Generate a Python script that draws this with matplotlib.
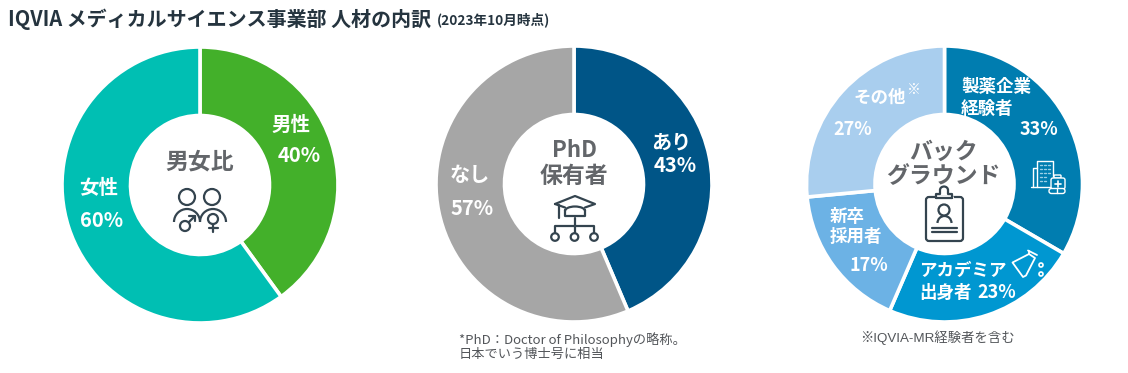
import matplotlib
matplotlib.use("Agg")
import matplotlib.pyplot as plt
from matplotlib.patches import Arc, Circle, FancyBboxPatch, Polygon

plt.rcParams["font.family"] = ["Noto Sans CJK JP", "DejaVu Sans"]

# data: slice sizes, printed percentages as written on it
gender_labels = ["男性", "女性"]
gender_values = [40, 60]
gender_pct = ["40%", "60%"]
phd_labels = ["あり", "なし"]
phd_values = [43.6, 56.4]
phd_pct = ["43%", "57%"]
background_labels = ["製薬企業経験者", "アカデミア出身者", "新卒採用者", "その他"]
background_values = [33.4, 23.1, 17.0, 26.5]
background_pct = ["33%", "23%", "17%", "27%"]

gender_colors = ["#43B02A", "#00BFB3"]
phd_colors = ["#005587", "#A6A6A6"]
background_colors = ["#007DB0", "#0097D1", "#6CB2E5", "#A9CEEE"]

GRAY = "#63666A"
NOTE = "#53565A"
DARK = "#25343F"
ICON = "#34444F"
H = 373

fig = plt.figure(figsize=(11.28, 3.73), dpi=100)
ax = fig.add_axes([0, 0, 1, 1])


def donut(values, colors, cx, cy):
    ax.pie(values, colors=colors, center=(cx, H - cy), radius=138, startangle=90,
           counterclock=False, normalize=True,
           wedgeprops=dict(width=68.5, edgecolor="white", linewidth=2.6))


def txt(x, y, s, size=14, color="white", ha="center", weight="bold", family=None):
    ax.text(x, H - y - 1.5, s, fontsize=size, color=color, ha=ha, va="center",
            fontweight=weight, family=family)


def line(xs, ys, color=ICON, lw=1.6):
    ax.plot(xs, [H - y for y in ys], color=color, lw=lw, solid_capstyle="round",
            solid_joinstyle="round")


def ring(x, y, r, color=ICON, lw=1.6):
    ax.add_patch(Circle((x, H - y), r, fill=False, edgecolor=color, lw=lw))


def shoulders(x, y, r, color=ICON, lw=1.6):
    ax.add_patch(Arc((x, H - y), 2 * r, 2 * r, theta1=0, theta2=180,
                     color=color, lw=lw))


def box(x0, y0, x1, y1, rad=2, color=ICON, lw=1.6, face="none"):
    ax.add_patch(FancyBboxPatch((x0, H - y1), x1 - x0, y1 - y0,
                                boxstyle=f"round,pad=0,rounding_size={rad}",
                                facecolor=face, edgecolor=color, lw=lw))


def gender_icon():
    ring(187, 197, 8)
    ring(212, 197, 8)
    shoulders(187, 222, 13)
    shoulders(213, 222, 13)
    # male
    ring(185, 226, 5)
    line([189, 195], [222, 216])
    line([189, 195, 195], [216, 216, 221])
    # female
    ring(213, 219, 5)
    line([213, 213], [224, 232])
    line([209, 218], [228, 228])


def phd_icon():
    line([555, 575, 595, 585], [204, 196, 204, 207.5])
    line([555, 565], [204, 207.5])
    ax.add_patch(Arc((575, H - 211), 20, 9, theta1=0, theta2=180, color=ICON, lw=1.6))
    line([565, 565, 585, 585], [210, 216, 216, 210])
    line([559, 559], [205, 218])
    line([574.5, 574.5], [218, 233])
    line([555, 555, 594, 594], [233, 226, 226, 233])
    for x in [555, 574.5, 594]:
        ring(x, 237, 3.8)


def clipboard_icon():
    box(926, 197, 963, 241, rad=3)
    # clip sits over the top edge
    line([936, 952], [197, 197], color="white", lw=2.2)
    line([936, 936, 940, 940], [198, 193.5, 193.5, 190])
    line([952, 952, 948, 948], [198, 193.5, 193.5, 190])
    ax.add_patch(Arc((944, H - 190), 8, 7, theta1=0, theta2=180, color=ICON, lw=1.6))
    line([936, 952], [198, 198])
    ring(944, 210, 5.5)
    shoulders(944.5, 223, 7)
    line([932, 957], [228, 228])
    line([932, 957], [232, 232])


def building_icon():
    c = "white"
    line([1033, 1033, 1037], [187, 168, 168], color=c, lw=1)
    line([1037, 1037, 1053, 1053], [187, 161, 161, 176], color=c, lw=1)
    line([1031, 1050], [187, 187], color=c, lw=1)
    for y in [165, 169, 173, 177, 181]:
        for x in [1041, 1045, 1049]:
            if y > 174 and x == 1049:
                continue
            line([x - 0.8, x + 0.8], [y, y], color="#9CD0E6", lw=1)
    box(1054, 175, 1061, 178, rad=0.8, color=c, lw=1, face="#007DB0")
    box(1051, 178, 1065, 189, rad=2, color=c, lw=1, face="#007DB0")
    line([1058, 1058], [180.5, 186.5], color=c, lw=1.2)
    line([1055, 1061], [183.5, 183.5], color=c, lw=1.2)
    box(1049, 188.5, 1065, 193.5, rad=2.4, color=c, lw=1, face="#007DB0")
    line([1057, 1057], [189, 193], color=c, lw=1)


def flask_icon():
    c = "white"
    pts = [(1029, 254), (1012.5, 262.5), (1023, 277), (1026, 275.5), (1035, 258)]
    ax.add_patch(Polygon([(x, H - y) for x, y in pts], closed=True, fill=False,
                         edgecolor=c, lw=1.3, joinstyle="round"))
    line([1028, 1037], [250.5, 255], color=c, lw=1.3)
    line([1029, 1029], [251, 254], color=c, lw=1.3)
    ring(1041, 265, 2, color=c, lw=1.2)
    ring(1041, 274, 2, color=c, lw=1.2)


donut(gender_values, gender_colors, 200, 185)
donut(phd_values, phd_colors, 574, 184)
donut(background_values, background_colors, 944.5, 184)

# title
txt(8, 17.5, "IQVIA メディカルサイエンス事業部 人材の内訳", size=14.4, color=DARK, ha="left")
txt(437, 18, "(2023年10月時点)", size=9.8, color=DARK, ha="left")

# gender
txt(291, 124, gender_labels[0], size=14)
txt(299, 154, gender_pct[0], size=14.5)
txt(99, 187, gender_labels[1], size=14)
txt(102, 219, gender_pct[1], size=14.5)
txt(200, 161, "男女比", size=16.5, color=GRAY)

# phd
txt(574, 149, "PhD", size=16, color=GRAY)
txt(574, 175, "保有者", size=16.5, color=GRAY)
txt(671, 140, phd_labels[0], size=14.5)
txt(675, 164, phd_pct[0], size=14.5)
txt(470, 173, phd_labels[1], size=14.5)
txt(472, 207, phd_pct[1], size=14.5)
txt(459, 338, "*PhD：Doctor of Philosophyの略称。", size=9.5, color=NOTE, ha="left", weight="normal")
txt(459, 353, "日本でいう博士号に相当", size=9.5, color=NOTE, ha="left", weight="normal")

# background
txt(943, 151, "バック", size=16.5, color=GRAY)
txt(943, 175, "グラウンド", size=16.5, color=GRAY)
txt(961, 86, background_labels[0][:4], size=12.6, ha="left")
txt(961, 107, background_labels[0][4:], size=12.6, ha="left")
txt(1058, 128, background_pct[0], size=13, ha="right")
txt(919, 270, background_labels[1][:5], size=12.6, ha="left")
txt(919, 291, background_labels[1][5:], size=12.6, ha="left")
txt(1016, 291, background_pct[1], size=13, ha="right")
txt(830, 215, background_labels[2][:2], size=12.6, ha="left")
txt(830, 236, background_labels[2][2:], size=12.6, ha="left")
txt(869, 264, background_pct[2], size=13)
txt(880, 96, background_labels[3], size=12.6)
txt(914, 89, "※", size=10, weight="normal")
txt(853, 128, background_pct[3], size=13)
txt(937, 336, "※IQVIA-MR経験者を含む", size=9.6, color=NOTE, weight="normal",
    family=["Liberation Sans", "Noto Sans CJK JP"])

gender_icon()
phd_icon()
clipboard_icon()
building_icon()
flask_icon()

ax.set_xlim(0, 1128)
ax.set_ylim(0, H)
ax.set_aspect("equal")
ax.axis("off")
fig.savefig("out.png", dpi=100, facecolor="white")
